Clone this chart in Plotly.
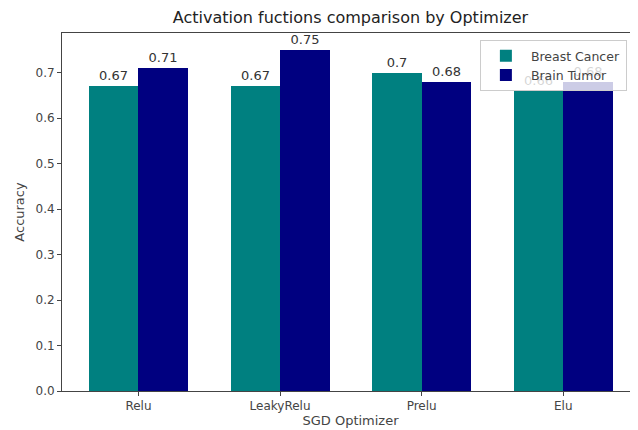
import plotly.graph_objects as go

categories = ["Relu", "LeakyRelu", "Prelu", "Elu"]
breast_cancer = [0.67, 0.67, 0.70, 0.66]
brain_tumor = [0.71, 0.75, 0.68, 0.68]
y_ticks = [0.0, 0.1, 0.2, 0.3, 0.4, 0.5, 0.6, 0.7]

w = 0.35
xs = list(range(len(categories)))

fig = go.Figure()
fig.add_trace(go.Bar(
    x=[x - w / 2 for x in xs], y=breast_cancer, width=w, name="Breast Cancer",
    marker=dict(color="#008080", line=dict(width=0)),
    text=[f"{v:g}" for v in breast_cancer], textposition="outside",
    textfont=dict(size=13, color="#333333"), cliponaxis=False,
))
fig.add_trace(go.Bar(
    x=[x + w / 2 for x in xs], y=brain_tumor, width=w, name="Brain Tumor",
    marker=dict(color="#000080", line=dict(width=0)),
    text=[f"{v:g}" for v in brain_tumor], textposition="outside",
    textfont=dict(size=13, color="#333333"), cliponaxis=False,
))

fig.update_layout(
    width=638, height=430,
    margin=dict(l=54, r=7, t=25, b=47),
    paper_bgcolor="white", plot_bgcolor="white",
    barmode="overlay", bargap=0,
    font=dict(family="DejaVu Sans", size=12, color="#444444"),
    title=dict(text="Activation fuctions comparison by Optimizer",
               x=0.5, xref="paper", xanchor="center",
               y=1 - 9 / 430, yref="container", yanchor="middle",
               font=dict(size=16, color="#222222")),
    legend=dict(x=0.979, xanchor="right", y=0.98, yanchor="top",
                bgcolor="rgba(255,255,255,0.8)", bordercolor="#cccccc", borderwidth=1,
                font=dict(size=12.5, color="#444444"), tracegroupgap=0,
                itemwidth=40),
    showlegend=True,
)
fig.update_xaxes(
    range=[-0.54, 3.535], tickvals=xs, ticktext=categories,
    ticks="outside", ticklen=4, tickcolor="#444444",
    showline=True, linecolor="#444444", linewidth=1, mirror=True,
    showgrid=False, zeroline=False,
    title=dict(text="SGD Optimizer", font=dict(size=13), standoff=2),
)
fig.update_yaxes(
    range=[0, 0.7875], tickvals=y_ticks, ticktext=[f"{v:.1f}" for v in y_ticks],
    ticks="outside", ticklen=4, tickcolor="#444444",
    showline=True, linecolor="#444444", linewidth=1, mirror=True,
    showgrid=False, zeroline=False,
    title=dict(text="Accuracy", font=dict(size=13), standoff=7),
)

fig.write_html("out.html")
